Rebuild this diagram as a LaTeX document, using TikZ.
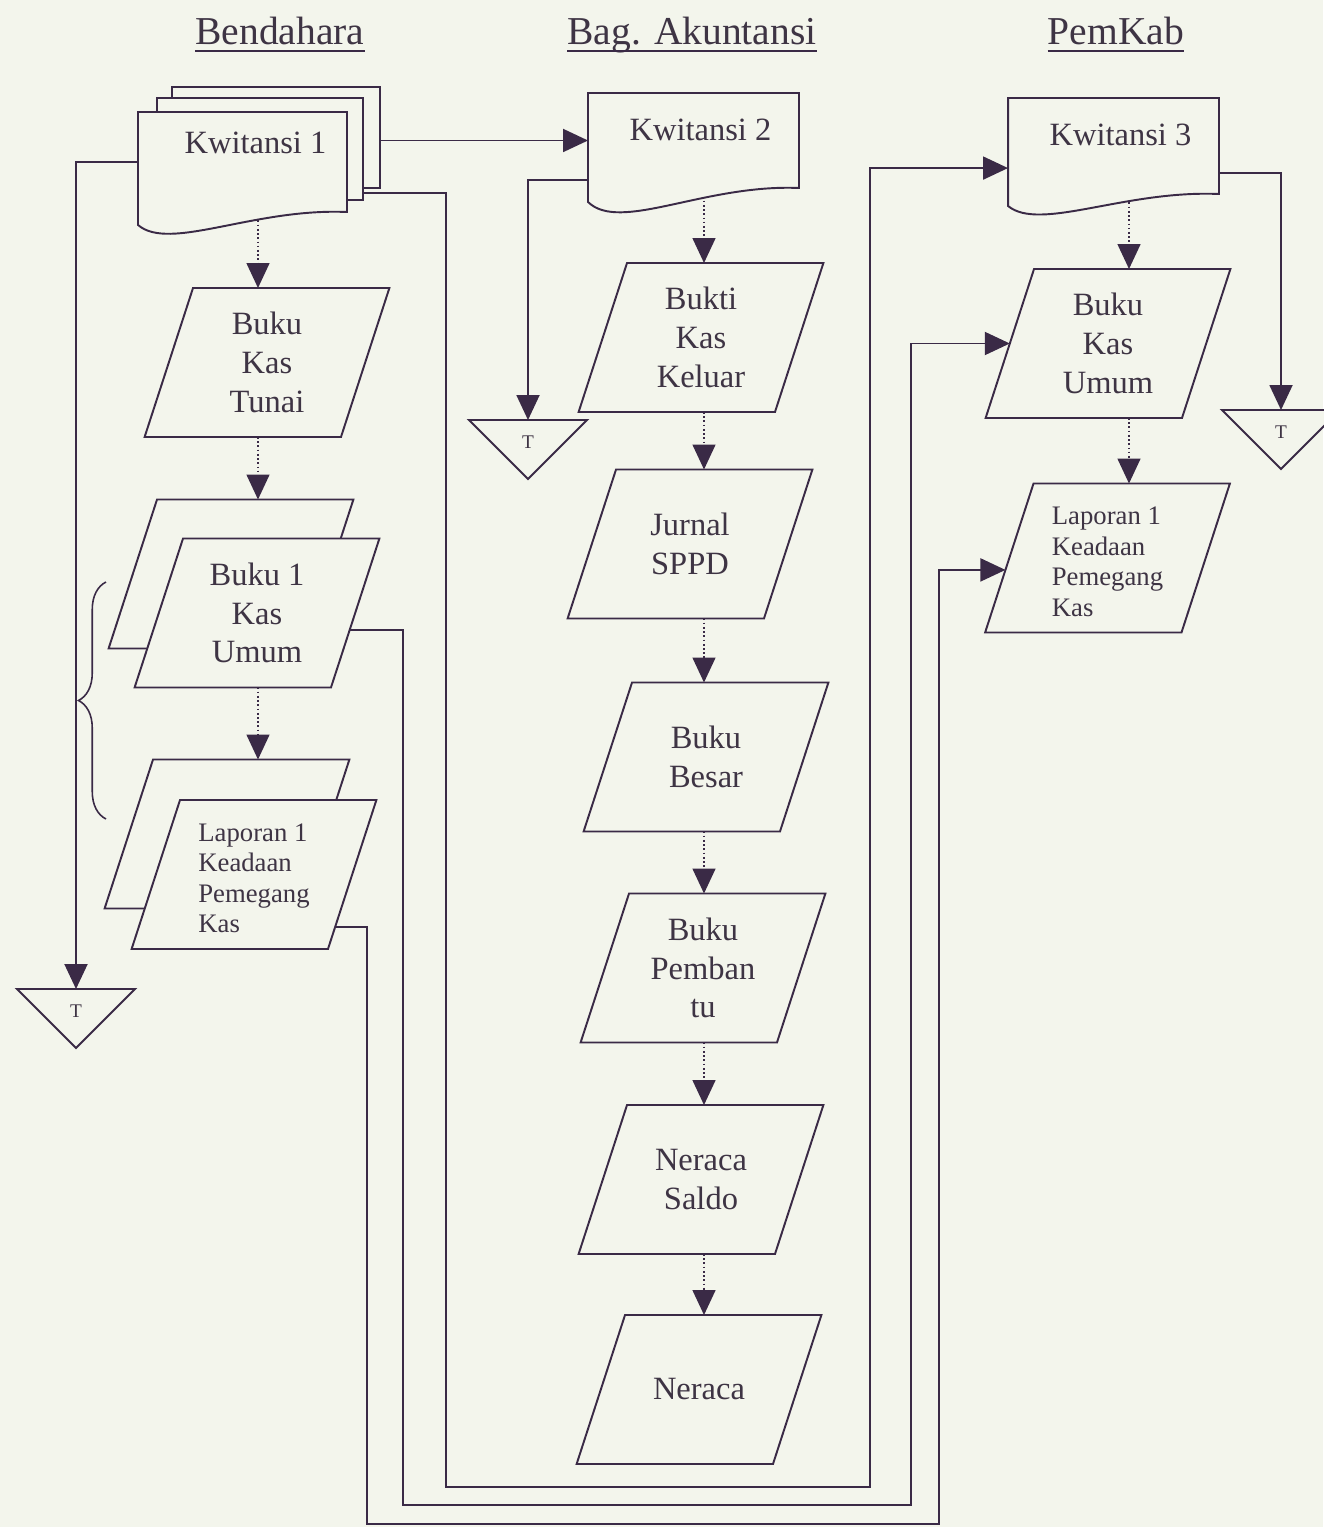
\documentclass[tikz,border=0pt]{standalone}
\usepackage{fontspec}
\setmainfont{Liberation Serif}
\usetikzlibrary{arrows.meta}
\usetikzlibrary{calc,shapes.geometric,decorations.pathreplacing}
\definecolor{kertas}{RGB}{243,245,236}
\definecolor{tinta}{RGB}{58,42,70}
\definecolor{huruf}{RGB}{62,52,68}

\pgfdeclarelayer{latar}
\pgfdeclarelayer{garis}
\pgfdeclarelayer{bentuk}
\pgfsetlayers{latar,garis,bentuk,main}

\tikzset{
  judul/.style={font=\fontsize{22.5}{26}\selectfont, text=huruf, inner sep=0pt, anchor=base},
  jurnal/.style={trapezium, trapezium left angle=72, trapezium right angle=108,
    draw=tinta, line width=1.1pt, fill=kertas, text=huruf,
    inner sep=0pt, outer sep=0pt, font=\fontsize{18.5}{22}\selectfont},
  laporan/.style={jurnal, font=\fontsize{15.2}{17.4}\selectfont},
  kwit/.style={rectangle, inner sep=0pt, outer sep=0pt, text=huruf,
    font=\fontsize{18.5}{22}\selectfont},
  bentukgaris/.style={draw=tinta, line width=1.1pt, fill=kertas},
  sambung/.style={draw=tinta, line width=1.1pt},
  panah/.style={sambung, -{Triangle[length=0.5cm,width=0.46cm]}},
  titik/.style={panah, line width=0.9pt, dash pattern=on 1pt off 1.4pt}
}

% isi jajaran genjang (ukuran tetap)
\newcommand{\isi}[1]{\parbox[c][2.98cm][c]{2.96cm}{\centering #1}}
\newcommand{\isikiri}[1]{\isi{\raisebox{-0.13cm}[\height][\depth]{\begin{tabular}{@{}l@{}}#1\end{tabular}}}}

% dokumen: #1 node, #2 turun kiri, #3 lengkung
\newcommand{\kertasdok}[3]{%
  \draw[bentukgaris] (#1.south east) -- (#1.north east) -- (#1.north west)
    -- ($(#1.south west)+(0,#2)$)
    .. controls ($(#1.south west)!0.15!(#1.south east)+(0,#3)$)
    and ($(#1.south west)!0.55!(#1.south east)+(0,-4)$) .. (#1.south east) -- cycle;}

% arsip: #1 nama, #2 x, #3 y puncak
\newcommand{\arsip}[3]{%
  \coordinate (#1) at (#2,#3);
  \begin{pgfonlayer}{bentuk}
    \draw[bentukgaris] ($(#1)+(-59,0)$) -- ($(#1)+(59,0)$) -- ($(#1)+(0,59)$) -- cycle;
  \end{pgfonlayer}
  \node[font=\fontsize{11}{11}\selectfont, text=huruf, inner sep=0pt] (#1-t) at ($(#1)+(0,22)$) {T};}

\begin{document}
\begin{tikzpicture}[x=0.02cm,y=-0.02cm]
\useasboundingbox (0,0) rectangle (1323,1527);
\begin{pgfonlayer}{latar}
  \fill[kertas] (0,0) rectangle (1323,1527);
\end{pgfonlayer}

% Judul
\node[judul] (judul1) at (280,45) {Bendahara};
\node[judul] (judul2) at (692,45) {Bag. Akuntansi};
\node[judul] (judul3) at (1116,45) {PemKab};
\foreach \j in {judul1,judul2,judul3}
  \draw[tinta, line width=1.2pt] ($(\j.base west)+(0,6)$) -- ($(\j.base east)+(0,6)$);

% Bendahara
\node[kwit, minimum width=4.16cm, minimum height=2.02cm] (kw1b) at (276,137.5) {};
\node[kwit, minimum width=4.12cm, minimum height=2.04cm] (kw1m) at (260,149) {};
\node[kwit, minimum width=4.18cm, minimum height=2cm, text depth=0.76cm] (kw1) at (242.5,162) {\hspace*{0.52cm}Kwitansi 1};
\begin{pgfonlayer}{bentuk}
  \draw[bentukgaris] (kw1b.north west) rectangle (kw1b.south east);
  \draw[bentukgaris] (kw1m.north west) rectangle (kw1m.south east);
  \kertasdok{kw1}{13}{40}
\end{pgfonlayer}
\node[jurnal] (bkt) at (267,362.5) {\isi{Buku\\Kas\\Tunai}};
\node[jurnal] (bk1b) at (231,574) {\isi{\mbox{}}};
\node[jurnal] (bk1) at (257,613) {\isi{Buku 1\\Kas\\Umum}};
\node[laporan] (lap1b) at (227,834) {\isi{\mbox{}}};
\node[laporan] (lap1) at (254,874.5) {\isikiri{Laporan 1\\Keadaan\\Pemegang\\Kas}};
\arsip{arsip1}{76}{989}

% Bag. Akuntansi
\node[kwit, minimum width=4.22cm, minimum height=1.9cm, text depth=0.42cm] (kw2) at (693.5,140.5) {\hspace*{0.28cm}Kwitansi 2};
\begin{pgfonlayer}{bentuk}
  \kertasdok{kw2}{14}{45}
\end{pgfonlayer}
\node[jurnal] (bkk) at (701,337.5) {\isi{Bukti\\Kas\\Keluar}};
\node[jurnal] (jsppd) at (690,544) {\isi{Jurnal\\SPPD}};
\node[jurnal] (bbesar) at (706,757) {\isi{Buku\\Besar}};
\node[jurnal] (bpemb) at (703,968) {\isi{Buku\\Pemban\\tu}};
\node[jurnal] (nsaldo) at (701,1179.5) {\isi{Neraca\\Saldo}};
\node[jurnal] (neraca) at (699,1389.5) {\isi{Neraca}};
\arsip{arsip2}{528}{420}

% PemKab
\node[kwit, minimum width=4.22cm, minimum height=1.92cm, text depth=0.44cm] (kw3) at (1113.5,146) {\hspace*{0.28cm}Kwitansi 3};
\begin{pgfonlayer}{bentuk}
  \kertasdok{kw3}{12}{38}
\end{pgfonlayer}
\node[jurnal] (bku3) at (1108,343.5) {\isi{Buku\\Kas\\Umum}};
\node[laporan] (lap3) at (1107.5,558) {\isikiri{Laporan 1\\Keadaan\\Pemegang\\Kas}};
\arsip{arsip3}{1281}{410}

% Alur
\coordinate (kol1) at (258,0);
\coordinate (kol2) at (704,0);
\coordinate (kol3) at (1129,0);
\coordinate (c1) at (446,1487);
\coordinate (c2) at (870,1487);
\coordinate (b1) at (403,1505);
\coordinate (b2) at (911,1505);
\coordinate (a1) at (367,1524);
\coordinate (a2) at (939,1524);
\begin{pgfonlayer}{garis}
  \draw[titik] (kw1.south -| kol1) -- (bkt.north -| kol1);
  \draw[titik] (bkt.south -| kol1) -- (bk1b.north -| kol1);
  \draw[titik] (bk1.south -| kol1) -- (lap1b.north -| kol1);
  \foreach \a/\b in {kw2/bkk,bkk/jsppd,jsppd/bbesar,bbesar/bpemb,bpemb/nsaldo,nsaldo/neraca}
    \draw[titik] (\a.south -| kol2) -- (\b.north -| kol2);
  \draw[titik] (kw3.south -| kol3) -- (bku3.north -| kol3);
  \draw[titik] (bku3.south -| kol3) -- (lap3.north -| kol3);

  \draw[panah] (kw1.west) -| (arsip1);
  \draw[panah] (kw1b.east |- kw2.west) -- (kw2.west);
  \draw[panah] ($(kw2.north west)!0.92!(kw2.south west)$) -| (arsip2);
  \draw[panah] ($(kw3.north east)!0.78!(kw3.south east)$) -| (arsip3);

  \draw[panah] ($(kw1m.south east)+(0,-7)$) -| (c1) -- (c2)
    |- ($(kw3.north west)!0.73!(kw3.south west)$);
  \draw[panah] ($(bk1.top right corner)!0.615!(bk1.bottom right corner)$) -| (b1) -- (b2)
    |- (bku3.west);
  \draw[panah] ($(lap1.top right corner)!0.85!(lap1.bottom right corner)$) -| (a1) -- (a2)
    |- ($(lap3.top left corner)!0.58!(lap3.bottom left corner)$);

  \draw[tinta, line width=0.9pt, decorate, decoration={brace, amplitude=0.55cm}] (106,819) -- (106,582);
\end{pgfonlayer}
\end{tikzpicture}
\end{document}
